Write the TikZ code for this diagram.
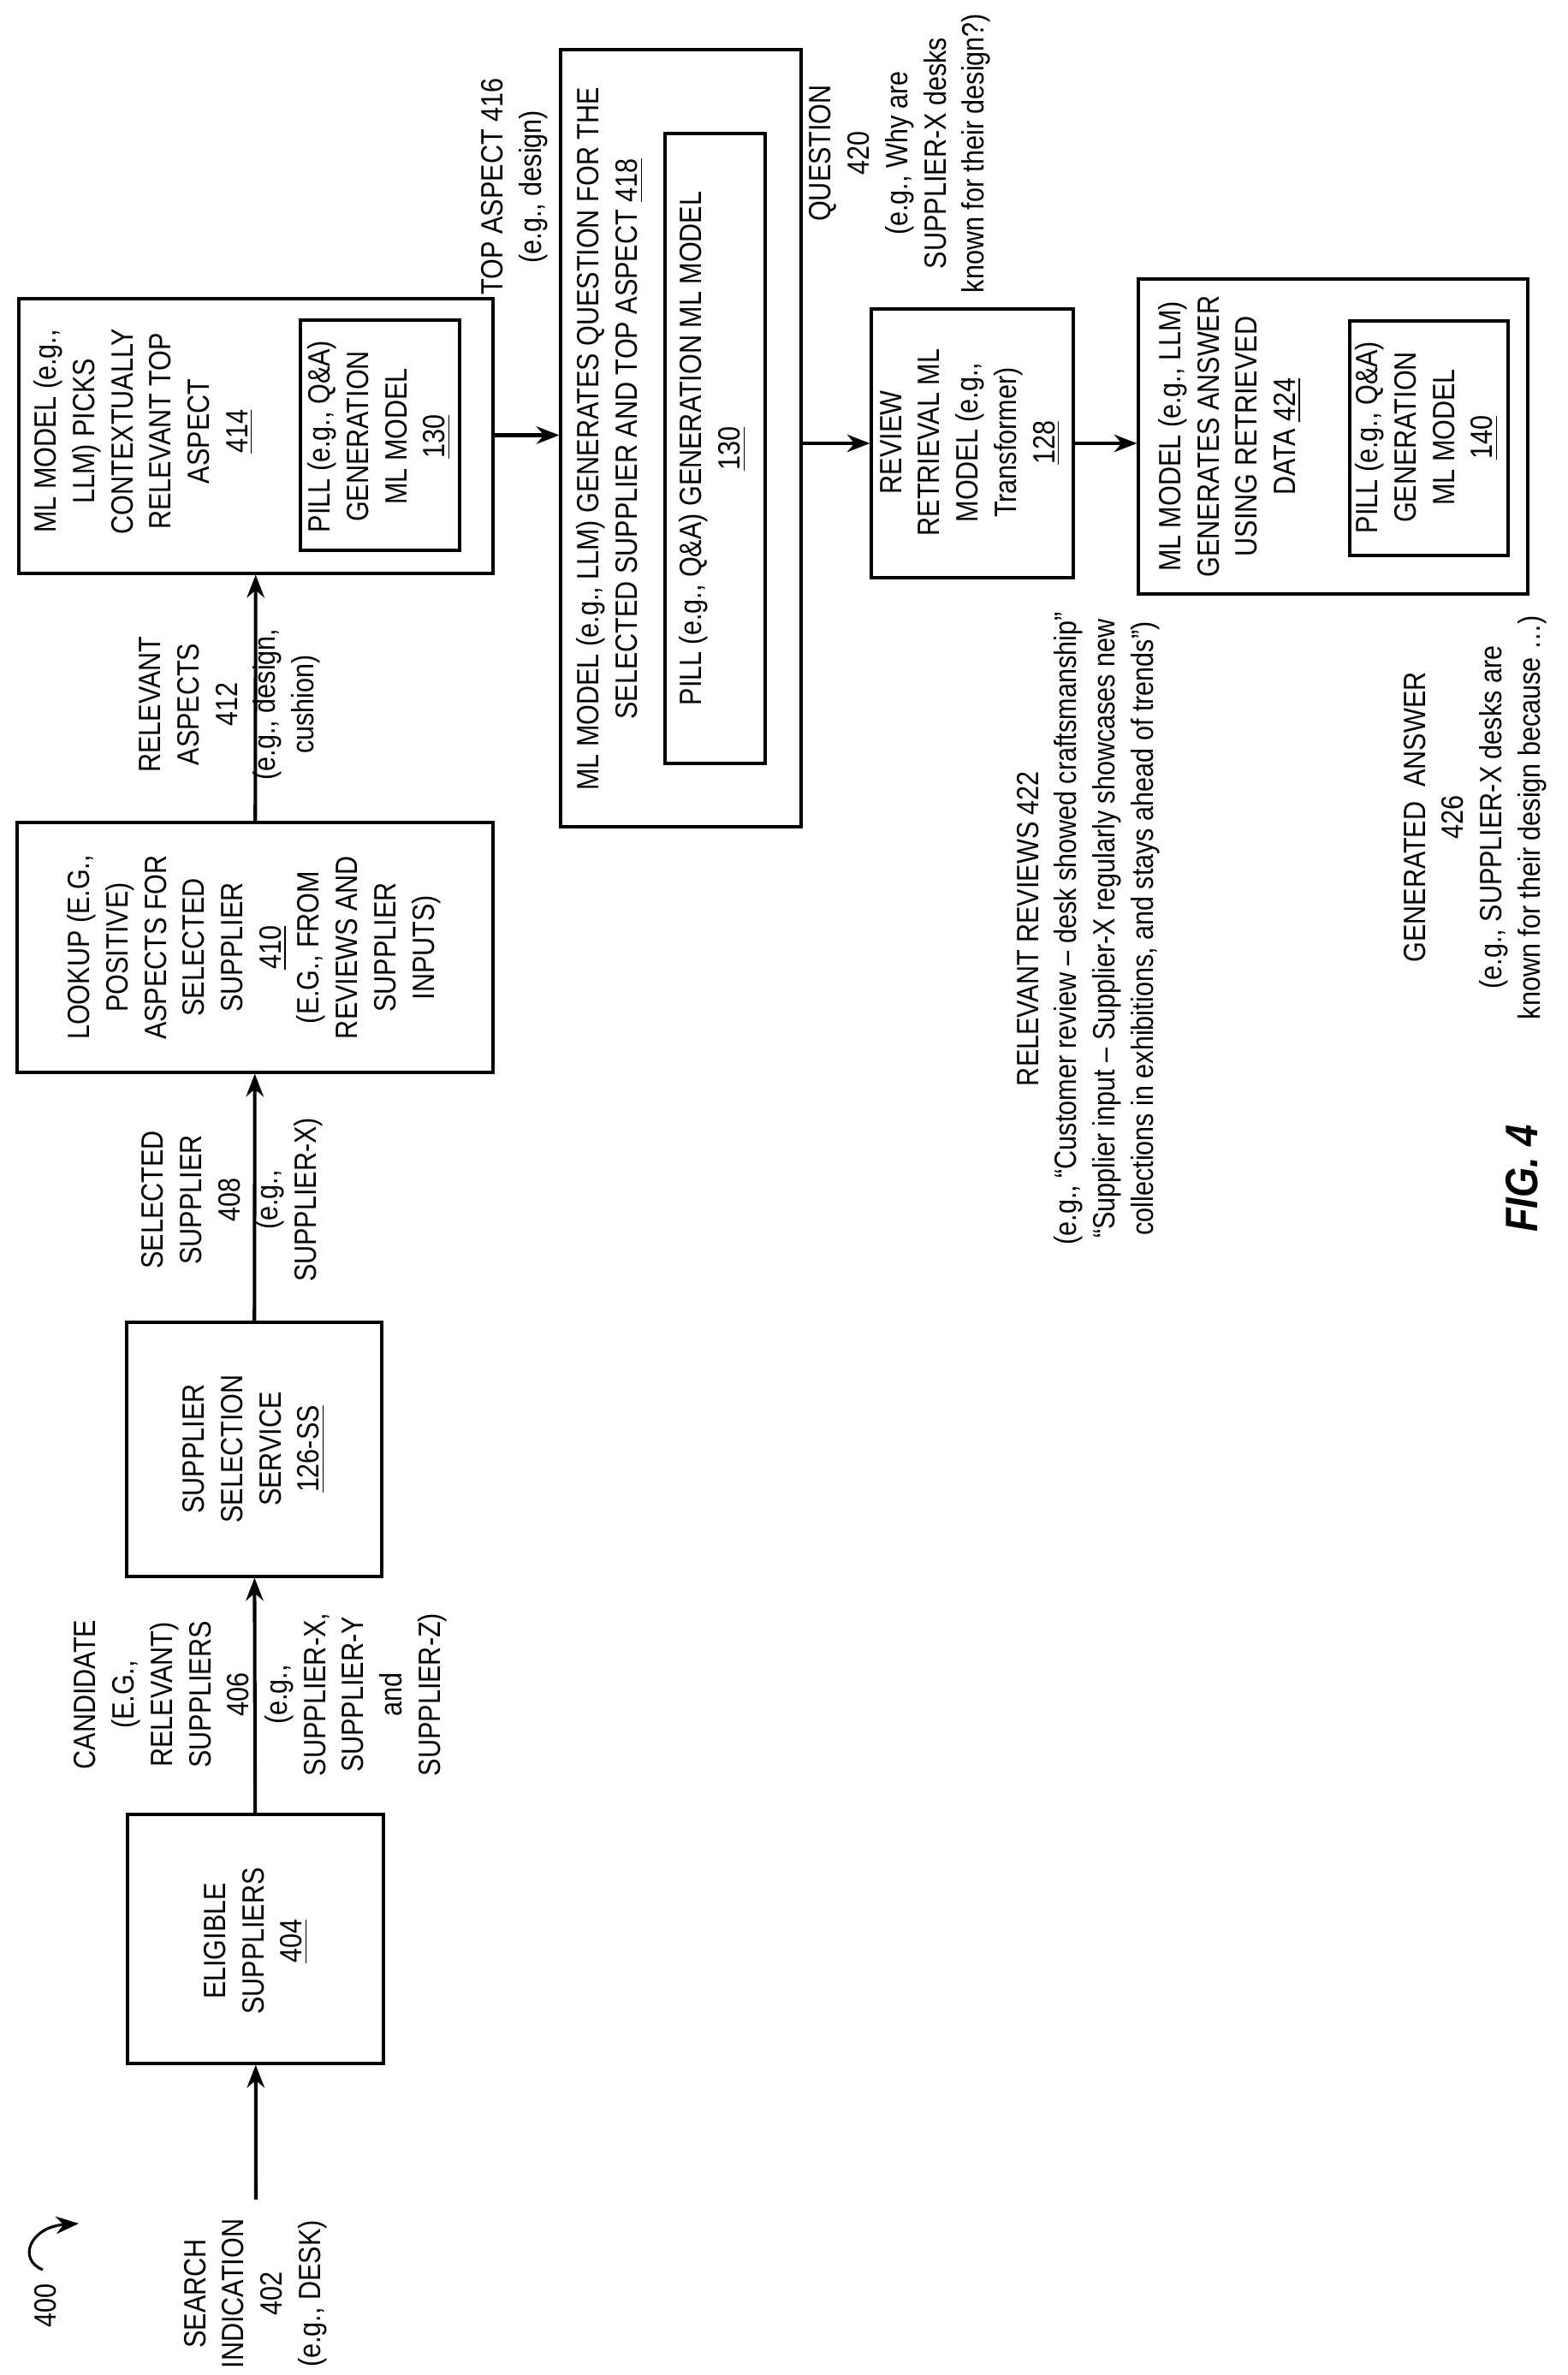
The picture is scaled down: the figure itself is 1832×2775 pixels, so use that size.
\documentclass[tikz,border=0pt]{standalone}
\usepackage{fontspec}
\setmainfont{Liberation Sans}[FakeStretch=0.85]
\usetikzlibrary{arrows.meta}
\begin{document}
\begin{tikzpicture}
[ x=0.1124mm, y=-0.1124mm, line width=1pt
, font=\fontsize{11.5}{14.3}\selectfont
, box/.style 2 args={rectangle, draw, inner sep=0pt, minimum width=#1*0.1124mm, minimum height=#2*0.1124mm}
, lbl/.style={rotate=90, align=center, inner sep=0pt}
, flow/.style={line width=1.3pt, -{Stealth[length=3mm, width=2.3mm]}}
]
\useasboundingbox (0,0) rectangle (1832,2775);
% Boxes:
\node (elig)   [box={299}{291}] at (298.5,2265.5) {};
\node (select) [box={298}{297}] at (297,1693.5) {};
\node (lookup) [box={556}{292}] at (298,1107) {};
\node (picks)  [box={554}{321}] at (299,509.5) {};
\node (pilla)  [box={186}{269}] at (444,508.5) {};
\node (quest)  [box={281}{908}] at (795.5,512) {};
\node (pillb)  [box={117}{736}] at (835.5,524) {};
\node (retr)   [box={236}{314}] at (1136,518) {};
\node (answ)   [box={455}{368}] at (1557.5,510) {};
\node (pillc)  [box={185}{274}] at (1669.5,512) {};
% Box texts:
\node (eligtxt)   [lbl] at (299,2268) {ELIGIBLE\\SUPPLIERS\\\underline{404}};
\node (selecttxt) [lbl] at (296.5,1693) {SUPPLIER\\SELECTION\\SERVICE\\\underline{126-SS}};
\node (lookuptxt) [lbl] at (296.5,1107) {LOOKUP (E.G.,\\POSITIVE)\\ASPECTS FOR\\SELECTED\\SUPPLIER\\\underline{410}\\(E.G., FROM\\REVIEWS AND\\SUPPLIER\\INPUTS)};
\node (pickstxt)  [lbl] at (167.5,504) {ML MODEL (e.g.,\\LLM) PICKS\\CONTEXTUALLY\\RELEVANT TOP\\ASPECT\\\underline{414}};
\node (pillatxt)  [lbl] at (443,510) {PILL (e.g., Q\&A)\\GENERATION\\ML MODEL\\\underline{130}};
\node (questtxt)  [lbl] at (712.5,513) {ML MODEL (e.g., LLM) GENERATES QUESTION FOR THE\\SELECTED SUPPLIER AND TOP ASPECT \underline{418}};
\node (pillbtxt)  [lbl] at (832.5,524) {PILL (e.g., Q\&A) GENERATION ML MODEL\\\underline{130}};
\node (retrtxt)   [lbl] at (1133.5,517) {REVIEW\\RETRIEVAL ML\\MODEL (e.g.,\\Transformer)\\\underline{128}};
\node (answtxt)   [lbl] at (1436.5,510) {ML MODEL (e.g., LLM)\\GENERATES ANSWER\\USING RETRIEVED\\DATA \underline{424}};
\node (pillctxt)  [lbl] at (1667,511) {PILL (e.g., Q\&A)\\GENERATION\\ML MODEL\\\underline{140}};
% Labels:
\node (search)  [lbl] at (298.5,2680) {SEARCH\\INDICATION\\402\\(e.g., DESK)};
\node (fig)     [lbl] at (53,2694) {400};
\node (candl)   [lbl] at (189,1980) {CANDIDATE\\(E.G.,\\RELEVANT)\\SUPPLIERS\\406};
\node (candr)   [lbl] at (415.5,1980) {(e.g.,\\SUPPLIER-X,\\SUPPLIER-Y\\and\\SUPPLIER-Z)};
\node (supl)    [lbl] at (223,1402) {SELECTED\\SUPPLIER\\408};
\node (supr)    [lbl] at (338,1402) {(e.g.,\\SUPPLIER-X)};
\node (aspl)    [lbl] at (220,823) {RELEVANT\\ASPECTS\\412};
\node (aspr)    [lbl] at (334.5,823) {(e.g., design,\\cushion)};
\node (top)     [lbl] at (601,218) {TOP ASPECT 416\\(e.g., design)};
\node (qlbl)    [lbl] at (1051.5,179) {QUESTION\\420\\(e.g., Why are\\SUPPLIER-X desks\\known for their design?)};
\node (reviews) [lbl] at (1271.5,1085) {RELEVANT REVIEWS 422\\(e.g., “Customer review – desk showed craftsmanship”\\“Supplier input – Supplier-X regularly showcases new\\collections in exhibitions, and stays ahead of trends”)};
\node (genans)  [lbl] at (1723.5,955) {GENERATED~~ANSWER\\426\\(e.g., SUPPLIER-X desks are\\known for their design because …)};
\node (figno)   [lbl, font=\fontsize{17}{20}\selectfont\bfseries\itshape] at (1778,1377) {FIG. 4};
% Connectors:
\coordinate (s0) at (299,2570);
\coordinate (c0) at (50,2652);
\coordinate (c1) at (92,2598);
\draw [flow] (s0) -- (elig);
\draw [flow] (elig) -- (select);
\draw [flow] (select) -- (lookup);
\draw [flow] (lookup) -- (picks);
\draw [flow] (picks.east |- pilla) -- (quest.west |- pilla);
\draw [flow] (quest.east |- retr) -- (retr);
\draw [flow] (retr) -- (answ.west |- retr);
\draw [line width=1pt, -{Stealth[length=3mm, width=2.3mm]}] (c0) .. controls (20,2640) and (35,2602) .. (c1);
\end{tikzpicture}
\end{document}
